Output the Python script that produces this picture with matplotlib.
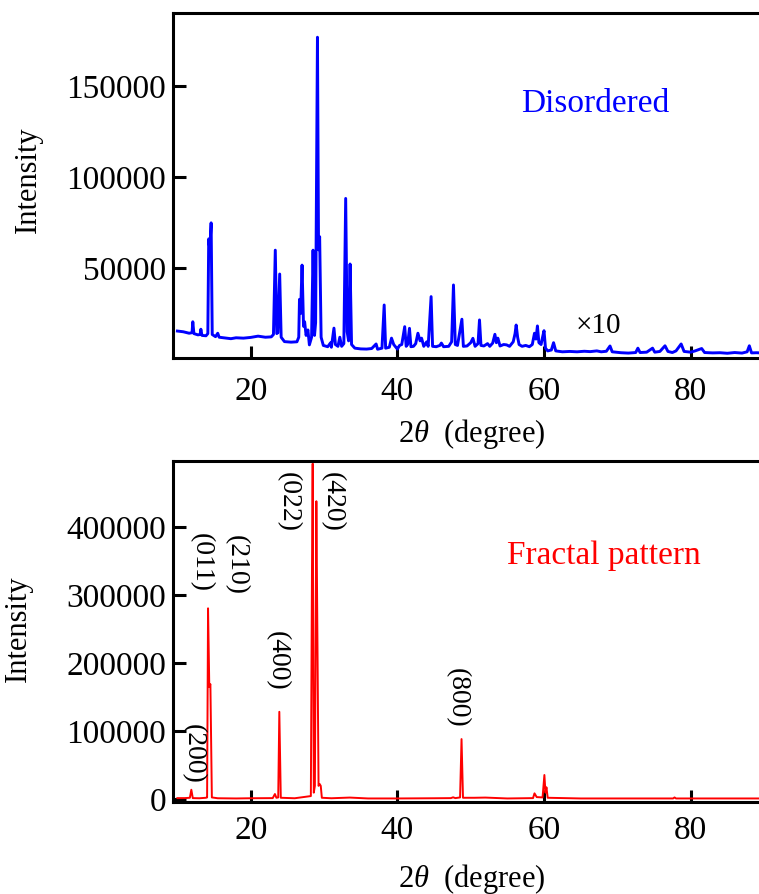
import matplotlib
matplotlib.use("Agg")
import matplotlib.pyplot as plt

plt.rcParams['font.family'] = ['Liberation Serif', 'DejaVu Serif']
plt.rcParams['mathtext.fontset'] = 'custom'
plt.rcParams['mathtext.rm'] = 'Liberation Serif'
plt.rcParams['mathtext.it'] = 'Liberation Serif:italic'

# --- disordered pattern ---
dis_2theta = [10.0, 10.8, 11.6, 12.0, 12.1, 12.25, 12.8, 13.1, 13.2, 13.35, 13.9, 14.15, 14.27, 14.42, 14.6, 14.75,
              15.2, 15.5, 15.7, 16.5, 17.3, 18.0, 19.0, 20.0, 21.0, 22.0, 22.8, 23.1, 23.35, 23.55, 23.7, 23.95,
              24.15, 24.6, 25.5, 26.3, 26.55, 26.65, 26.8, 27.0, 27.2, 27.35, 27.55, 27.8, 28.0, 28.3, 28.5, 28.7,
              28.85, 29.1, 29.25, 29.4, 29.6, 29.9, 30.5, 30.9, 31.0, 31.35, 31.55, 31.9, 32.15, 32.4, 32.7, 32.95,
              33.15, 33.35, 33.55, 33.75, 34.2, 35.0, 35.8, 36.5, 37.1, 37.3, 37.9, 38.2, 38.4, 38.9, 39.2, 39.5,
              39.8, 40.0, 40.3, 40.6, 41.0, 41.2, 41.4, 41.65, 41.85, 42.2, 42.5, 42.8, 43.1, 43.3, 43.6, 44.0,
              44.2, 44.6, 44.8, 45.3, 45.8, 46.0, 46.3, 47.0, 47.4, 47.65, 47.9, 48.2, 48.8, 49.0, 49.5, 50.0,
              50.3, 50.6, 51.0, 51.2, 51.4, 51.8, 52.3, 52.6, 53.0, 53.3, 53.5, 53.7, 54.0, 54.5, 54.9, 55.3,
              55.8, 56.05, 56.2, 56.4, 56.6, 57.0, 57.5, 58.0, 58.4, 58.7, 58.9, 59.1, 59.3, 59.6, 59.8, 60.0,
              60.2, 60.5, 61.0, 61.3, 61.6, 62.5, 63.5, 64.5, 65.5, 66.3, 67.2, 67.8, 68.5, 69.0, 69.3, 70.5,
              71.5, 72.5, 72.8, 73.1, 74.0, 74.8, 75.1, 75.8, 76.5, 76.9, 77.5, 78.0, 78.7, 79.1, 80.0, 80.6,
              81.5, 81.9, 83.0, 84.0, 85.0, 86.0, 87.0, 87.7, 88.0, 88.3, 89.0, 90.0]
dis_int = [15400, 15000, 14200, 14500, 20500, 14000, 13300, 13500, 16400, 13000, 12800, 14000, 66000, 60000, 74800, 13500,
           12300, 14200, 12000, 11600, 11200, 11700, 11500, 11900, 12600, 12000, 12200, 13500, 59800, 14000, 14500, 46700,
           12000, 9600, 9300, 9500, 12000, 32800, 25000, 51600, 18000, 20500, 13000, 16000, 7800, 12000, 59800, 13000,
           20000, 176700, 60000, 67200, 12000, 7500, 6800, 9000, 6500, 17000, 8000, 7000, 12000, 7000, 8500, 88200,
           15000, 10000, 52200, 8000, 6000, 5600, 5500, 5800, 8300, 5400, 6000, 29700, 6000, 6500, 11500, 8000,
           6500, 5500, 7500, 8000, 17800, 7000, 8000, 16900, 6800, 7000, 8500, 14200, 10000, 11500, 7000, 9500,
           7000, 34300, 7000, 6800, 7500, 8800, 6800, 7000, 9500, 40700, 8000, 7500, 21900, 7000, 7200, 9000,
           11400, 7000, 8500, 21500, 7500, 7200, 8500, 7000, 8800, 13600, 9000, 11500, 7200, 8000, 7800, 7000,
           9500, 14000, 18700, 12000, 8000, 7000, 7500, 6800, 8000, 14200, 11000, 18200, 9000, 8000, 12000, 15600,
           6000, 4500, 5000, 9000, 4500, 4000, 4200, 4000, 4300, 4100, 4500, 4000, 4300, 7200, 4000, 3500,
           3300, 3600, 6000, 3600, 3800, 6000, 3800, 4200, 7300, 4200, 3600, 4500, 8300, 4200, 3800, 4500,
           5800, 3600, 3400, 3500, 3200, 3600, 3300, 4000, 7300, 3400, 3500, 3300]

# --- fractal pattern ---
frac_2theta = [10.0, 11.0, 11.7, 11.9, 12.1, 13.0, 13.9, 14.05, 14.18, 14.35, 14.5, 14.7, 15.5, 18.0, 20.0, 23.0,
               23.3, 23.5, 23.75, 23.9, 24.1, 26.0, 28.2, 28.35, 28.45, 28.6, 28.75, 28.95, 29.1, 29.25, 29.4, 29.55,
               29.7, 31.0, 33.5, 36.0, 40.0, 45.0, 47.3, 47.6, 47.9, 48.55, 48.75, 48.95, 50.5, 52.0, 55.0, 58.5,
               58.7, 59.0, 59.8, 60.05, 60.2, 60.33, 60.5, 65.0, 70.0, 77.6, 77.8, 78.0, 85.0, 90.0]
frac_int = [2000, 2000, 2500, 14300, 2000, 1800, 2500, 3000, 280400, 165000, 169100, 3000, 1800, 1500, 1800, 2000,
            8000, 2500, 3000, 128600, 2500, 1800, 5000, 330000, 492600, 10000, 20000, 437500, 230000, 20000, 22700, 20000,
            2500, 1800, 2800, 1500, 1500, 1800, 2000, 3200, 2000, 3000, 88600, 2500, 2500, 2800, 1500, 2000,
            9000, 3500, 3000, 35900, 10000, 17900, 2500, 1500, 1500, 1500, 3000, 1500, 1500, 1500]

# Miller index labels: text, 2theta, intensity position
hkl_text = ['(200)', '(011)', '(210)', '(400)', '(022)', '(420)', '(800)']
hkl_x = [12.1, 13.3, 18.0, 23.6, 25.1, 31.1, 48.1]
hkl_y = [67000, 347000, 344000, 203000, 437000, 437000, 149000]

W, H = 759, 894
fig = plt.figure(figsize=(W / 100, H / 100), dpi=100)

ax1 = fig.add_axes([173 / W, 1 - 358 / H, (764 - 173) / W, 345 / H])
ax2 = fig.add_axes([173 / W, 1 - 802 / H, (764 - 173) / W, 341 / H])

ax1.plot(dis_2theta, dis_int, color='#0000ff', lw=2.1)
ax1.set_xlim(9.4, 90)
ax1.set_ylim(600, 190000)
ax1.set_yticks([50000, 100000, 150000])
ax1.text(56.9, 135500, 'Disordered', color='#0000ff', fontsize=24, ha='left', va='baseline')
ax1.text(64.3, 14300, '×10', color='black', fontsize=21, ha='left', va='baseline')

ax2.plot(frac_2theta, frac_int, color='#ff0000', lw=1.4)
ax2.set_xlim(9.4, 90)
ax2.set_ylim(-3700, 496500)
ax2.set_yticks([0, 100000, 200000, 300000, 400000])
ax2.text(55.0, 346000, 'Fractal pattern', color='#ff0000', fontsize=24, ha='left', va='baseline')
for t, x, y in zip(hkl_text, hkl_x, hkl_y):
    ax2.text(x, y, t, rotation=-90, fontsize=20, ha='center', va='center')

for ax, pad in [(ax1, 13), (ax2, 10)]:
    ax.set_xticks([20, 40, 60, 80])
    for s in ax.spines.values():
        s.set_linewidth(2.2)
    ax.tick_params(axis='both', direction='in', length=9, width=2.2, labelsize=24)
    ax.tick_params(axis='x', pad=pad)
    ax.tick_params(axis='y', pad=5)
    ax.set_xlabel(r'$\mathit{2\theta}$  (degree)', fontsize=22)
    ax.set_ylabel('Intensity', fontsize=22)

ax1.xaxis.set_label_coords(0.506, -0.171)
ax2.xaxis.set_label_coords(0.506, -0.175)
ax1.yaxis.set_label_coords(-0.22, 0.517)
ax2.yaxis.set_label_coords(-0.237, 0.507)

fig.savefig('out.png', dpi=100)
